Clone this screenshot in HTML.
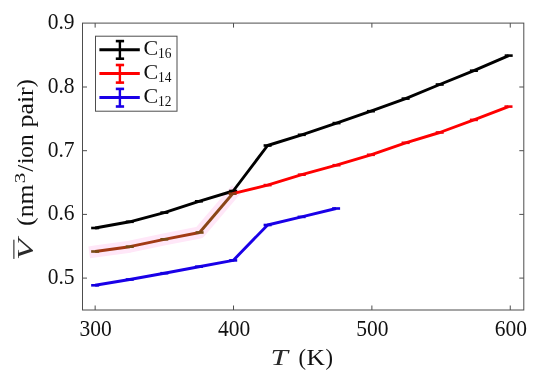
<!DOCTYPE html>
<html><head><meta charset="utf-8"><title>V vs T</title>
<style>html,body{margin:0;padding:0;background:#fff;}svg{display:block;}text{filter:grayscale(1);}text{font-family:"Liberation Serif","DejaVu Serif",serif;fill:#111;}</style></head>
<body>
<svg width="550" height="379" viewBox="0 0 550 379">
<rect width="550" height="379" fill="#ffffff"/>
<polyline points="95.15,251.50 129.75,246.70 164.35,239.30 199.60,232.50 232.60,193.70" fill="none" stroke="#ffe7f8" stroke-width="12" stroke-linecap="square" stroke-linejoin="round"/>
<rect x="82.5" y="23.1" width="441.29999999999995" height="286.9" fill="none" stroke="#4d4d4d" stroke-width="1"/>
<path d="M95.15 310.0v-4.5M95.15 23.1v4.5M233.52 310.0v-4.5M233.52 23.1v4.5M371.89 310.0v-4.5M371.89 23.1v4.5M510.26 310.0v-4.5M510.26 23.1v4.5M82.5 87.00h4.5M523.8 87.00h-4.5M82.5 150.70h4.5M523.8 150.70h-4.5M82.5 214.40h4.5M523.8 214.40h-4.5M82.5 278.10h4.5M523.8 278.10h-4.5" fill="none" stroke="#4d4d4d" stroke-width="1"/>
<polyline points="95.15,228.00 129.75,221.80 164.35,212.60 198.90,201.30 233.20,191.00 267.60,145.50 301.80,134.80 336.50,123.10 370.90,111.20 405.60,98.60 439.70,84.50 473.90,70.70 508.70,55.60" fill="none" stroke="#000" stroke-width="2.9" stroke-linejoin="round"/><line x1="91.15" y1="228.00" x2="99.15" y2="228.00" stroke="#000" stroke-width="2.6"/><line x1="125.75" y1="221.80" x2="133.75" y2="221.80" stroke="#000" stroke-width="2.6"/><line x1="160.35" y1="212.60" x2="168.35" y2="212.60" stroke="#000" stroke-width="2.6"/><line x1="194.90" y1="201.30" x2="202.90" y2="201.30" stroke="#000" stroke-width="2.6"/><line x1="229.20" y1="191.00" x2="237.20" y2="191.00" stroke="#000" stroke-width="2.6"/><line x1="263.60" y1="145.50" x2="271.60" y2="145.50" stroke="#000" stroke-width="2.6"/><line x1="297.80" y1="134.80" x2="305.80" y2="134.80" stroke="#000" stroke-width="2.6"/><line x1="332.50" y1="123.10" x2="340.50" y2="123.10" stroke="#000" stroke-width="2.6"/><line x1="366.90" y1="111.20" x2="374.90" y2="111.20" stroke="#000" stroke-width="2.6"/><line x1="401.60" y1="98.60" x2="409.60" y2="98.60" stroke="#000" stroke-width="2.6"/><line x1="435.70" y1="84.50" x2="443.70" y2="84.50" stroke="#000" stroke-width="2.6"/><line x1="469.90" y1="70.70" x2="477.90" y2="70.70" stroke="#000" stroke-width="2.6"/><line x1="504.70" y1="55.60" x2="512.70" y2="55.60" stroke="#000" stroke-width="2.6"/>
<polyline points="232.60,193.70 267.60,185.10 301.80,174.70 336.50,165.20 370.90,154.80 405.60,142.80 439.70,132.50 473.90,119.90 508.50,106.60" fill="none" stroke="#ff0000" stroke-width="2.9" stroke-linejoin="round"/><line x1="263.60" y1="185.10" x2="271.60" y2="185.10" stroke="#f60008" stroke-width="2.6"/><line x1="297.80" y1="174.70" x2="305.80" y2="174.70" stroke="#f60008" stroke-width="2.6"/><line x1="332.50" y1="165.20" x2="340.50" y2="165.20" stroke="#f60008" stroke-width="2.6"/><line x1="366.90" y1="154.80" x2="374.90" y2="154.80" stroke="#f60008" stroke-width="2.6"/><line x1="401.60" y1="142.80" x2="409.60" y2="142.80" stroke="#f60008" stroke-width="2.6"/><line x1="435.70" y1="132.50" x2="443.70" y2="132.50" stroke="#f60008" stroke-width="2.6"/><line x1="469.90" y1="119.90" x2="477.90" y2="119.90" stroke="#f60008" stroke-width="2.6"/><line x1="504.50" y1="106.60" x2="512.50" y2="106.60" stroke="#f60008" stroke-width="2.6"/>
<polyline points="199.60,232.50 232.60,193.70" fill="none" stroke="#8a4618" stroke-width="2.9" stroke-linejoin="round"/><polyline points="95.15,251.50 129.75,246.70 164.35,239.30 199.60,232.50" fill="none" stroke="#a23a14" stroke-width="2.9" stroke-linejoin="round"/><line x1="91.15" y1="251.50" x2="99.15" y2="251.50" stroke="#7a4a14" stroke-width="2.6"/><line x1="125.75" y1="246.70" x2="133.75" y2="246.70" stroke="#7a4a14" stroke-width="2.6"/><line x1="160.35" y1="239.30" x2="168.35" y2="239.30" stroke="#7a4a14" stroke-width="2.6"/><line x1="195.60" y1="232.50" x2="203.60" y2="232.50" stroke="#7a4a14" stroke-width="2.6"/><line x1="228.60" y1="193.70" x2="236.60" y2="193.70" stroke="#8a3a14" stroke-width="2.6"/>
<polyline points="95.15,285.30 129.75,279.50 164.35,273.20 198.90,266.70 233.20,260.40 267.60,225.00 301.60,216.90 336.10,208.50" fill="none" stroke="#1a00e8" stroke-width="2.9" stroke-linejoin="round"/><line x1="91.15" y1="285.30" x2="99.15" y2="285.30" stroke="#1400e0" stroke-width="2.6"/><line x1="125.75" y1="279.50" x2="133.75" y2="279.50" stroke="#1400e0" stroke-width="2.6"/><line x1="160.35" y1="273.20" x2="168.35" y2="273.20" stroke="#1400e0" stroke-width="2.6"/><line x1="194.90" y1="266.70" x2="202.90" y2="266.70" stroke="#1400e0" stroke-width="2.6"/><line x1="229.20" y1="260.40" x2="237.20" y2="260.40" stroke="#1400e0" stroke-width="2.6"/><line x1="263.60" y1="225.00" x2="271.60" y2="225.00" stroke="#1400e0" stroke-width="2.6"/><line x1="297.60" y1="216.90" x2="305.60" y2="216.90" stroke="#1400e0" stroke-width="2.6"/><line x1="332.10" y1="208.50" x2="340.10" y2="208.50" stroke="#1400e0" stroke-width="2.6"/>
<rect x="95.5" y="36.2" width="81.5" height="75" fill="#fff" stroke="#4d4d4d" stroke-width="1"/>
<line x1="99.4" y1="49.7" x2="139.8" y2="49.7" stroke="#000" stroke-width="3"/><line x1="119.9" y1="40.400000000000006" x2="119.9" y2="59.400000000000006" stroke="#000" stroke-width="2.4"/><line x1="115.8" y1="41.1" x2="124.1" y2="41.1" stroke="#000" stroke-width="2.6"/><line x1="115.8" y1="58.7" x2="124.1" y2="58.7" stroke="#000" stroke-width="2.6"/><text x="143.4" y="55.1" font-size="22">C</text><text x="158.0" y="57.7" font-size="14.8" textLength="13.4" lengthAdjust="spacingAndGlyphs">16</text>
<line x1="99.4" y1="73.6" x2="139.8" y2="73.6" stroke="#ff0000" stroke-width="3"/><line x1="119.9" y1="64.3" x2="119.9" y2="83.3" stroke="#ff0000" stroke-width="2.4"/><line x1="115.8" y1="65.0" x2="124.1" y2="65.0" stroke="#ff0000" stroke-width="2.6"/><line x1="115.8" y1="82.6" x2="124.1" y2="82.6" stroke="#ff0000" stroke-width="2.6"/><text x="143.4" y="79.0" font-size="22">C</text><text x="158.0" y="81.6" font-size="14.8" textLength="13.4" lengthAdjust="spacingAndGlyphs">14</text>
<line x1="99.4" y1="97.5" x2="139.8" y2="97.5" stroke="#1a00e8" stroke-width="3"/><line x1="119.9" y1="88.2" x2="119.9" y2="107.2" stroke="#1a00e8" stroke-width="2.4"/><line x1="115.8" y1="88.9" x2="124.1" y2="88.9" stroke="#1a00e8" stroke-width="2.6"/><line x1="115.8" y1="106.5" x2="124.1" y2="106.5" stroke="#1a00e8" stroke-width="2.6"/><text x="143.4" y="102.9" font-size="22">C</text><text x="158.0" y="105.5" font-size="14.8" textLength="13.4" lengthAdjust="spacingAndGlyphs">12</text>
<text x="79.55" y="335.9" font-size="22.5" textLength="32.25" lengthAdjust="spacingAndGlyphs">300</text><text x="217.92" y="335.9" font-size="22.5" textLength="32.25" lengthAdjust="spacingAndGlyphs">400</text><text x="356.29" y="335.9" font-size="22.5" textLength="32.25" lengthAdjust="spacingAndGlyphs">500</text><text x="494.66" y="335.9" font-size="22.5" textLength="32.25" lengthAdjust="spacingAndGlyphs">600</text>
<text x="47.7" y="29.10" font-size="22.5" textLength="26.9" lengthAdjust="spacingAndGlyphs">0.9</text><text x="47.7" y="92.80" font-size="22.5" textLength="26.9" lengthAdjust="spacingAndGlyphs">0.8</text><text x="47.7" y="156.50" font-size="22.5" textLength="26.9" lengthAdjust="spacingAndGlyphs">0.7</text><text x="47.7" y="220.20" font-size="22.5" textLength="26.9" lengthAdjust="spacingAndGlyphs">0.6</text><text x="47.7" y="283.90" font-size="22.5" textLength="26.9" lengthAdjust="spacingAndGlyphs">0.5</text>
<text x="270.4" y="364.6" font-size="23.3" font-style="italic" style="fill:#2a2a2a" textLength="17.4" lengthAdjust="spacingAndGlyphs">T</text><text x="298.6" y="364.5" font-size="22.5" textLength="7.5" lengthAdjust="spacingAndGlyphs">(</text><text x="306.4" y="364.5" font-size="22.5" textLength="18.4" lengthAdjust="spacingAndGlyphs">K</text><text x="325.6" y="364.5" font-size="22.5" textLength="7.5" lengthAdjust="spacingAndGlyphs">)</text>
<g transform="translate(32.6 259.5) rotate(-90)"><text x="-0.4" y="0" font-size="23" font-style="italic" style="fill:#2a2a2a" textLength="21" lengthAdjust="spacingAndGlyphs">V</text><text x="33.6" y="0" font-size="22.5" textLength="41.5" lengthAdjust="spacingAndGlyphs">(nm</text><text x="76.3" y="-8" font-size="15" textLength="10.5" lengthAdjust="spacingAndGlyphs">3</text><text x="87.8" y="0" font-size="22.5" textLength="7" lengthAdjust="spacingAndGlyphs">/</text><text x="95.4" y="0" font-size="22.5" textLength="29.8" lengthAdjust="spacingAndGlyphs">ion</text><text x="132.0" y="0" font-size="22.5" textLength="40.2" lengthAdjust="spacingAndGlyphs">pair</text><text x="172.2" y="0" font-size="22.5" textLength="8" lengthAdjust="spacingAndGlyphs">)</text><line x1="0.6" y1="-18.7" x2="19.8" y2="-18.7" stroke="#111" stroke-width="1"/></g>
</svg>
</body></html>
